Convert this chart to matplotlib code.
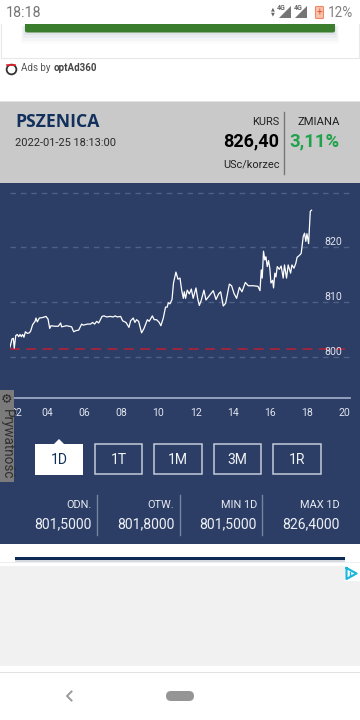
import matplotlib
matplotlib.use("Agg")
import matplotlib.pyplot as plt
from matplotlib.patches import Rectangle, FancyBboxPatch, Polygon

plt.rcParams['font.family'] = ['Roboto', 'DejaVu Sans']

# price readings, hour of day / USc per bushel
hours = [2.00, 2.11, 2.18, 2.23, 2.31, 2.39, 2.47, 2.54, 2.61, 2.68, 2.75, 2.83, 2.93, 3.04, 3.11, 3.22,
         3.35, 3.40, 3.47, 3.58, 3.76, 3.94, 4.05, 4.14, 4.21, 4.42, 4.60, 4.73, 4.78, 5.05, 5.32, 5.43,
         5.55, 5.70, 5.86, 5.95, 6.17, 6.34, 6.45, 6.56, 6.67, 6.78, 6.96, 7.06, 7.21, 7.39, 7.57, 7.66,
         7.78, 7.96, 8.07, 8.25, 8.41, 8.50, 8.64, 8.73, 8.82, 8.93, 9.09, 9.22, 9.40, 9.50, 9.67, 9.77,
         9.90, 10.04, 10.13, 10.26, 10.38, 10.47, 10.53, 10.62, 10.73, 10.81, 10.94, 11.05, 11.16, 11.25,
         11.34, 11.39, 11.46, 11.55, 11.66, 11.77, 11.87, 12.02, 12.11, 12.20, 12.30, 12.45, 12.56, 12.74,
         12.95, 13.10, 13.24, 13.35, 13.49, 13.62, 13.82, 13.94, 14.07, 14.21, 14.36, 14.50, 14.68, 14.84,
         15.11, 15.36, 15.47, 15.54, 15.59, 15.66, 15.73, 15.79, 15.86, 15.93, 16.00, 16.06, 16.15, 16.20,
         16.27, 16.33, 16.40, 16.51, 16.61, 16.72, 16.79, 16.90, 16.99, 17.12, 17.19, 17.30, 17.40, 17.47,
         17.58, 17.69, 17.80, 17.87, 17.94, 18.00, 18.09, 18.18, 18.25]
prices = [801.8, 803.3, 803.4, 801.6, 803.9, 804.1, 803.7, 804.1, 803.7, 804.1, 803.6, 804.6, 804.3, 804.4,
          804.7, 805.9, 806.5, 807.1, 806.4, 807.1, 807.2, 807.4, 806.9, 805.2, 805.7, 805.6, 805.6, 806.2,
          805.5, 805.7, 805.5, 804.6, 804.8, 804.9, 806.0, 805.8, 806.0, 806.0, 806.3, 806.0, 806.5, 806.2,
          807.4, 807.5, 807.3, 807.4, 807.3, 807.5, 807.3, 807.4, 806.6, 806.3, 805.4, 806.6, 807.1, 806.3,
          806.8, 806.5, 804.4, 805.2, 806.8, 806.5, 807.5, 806.8, 806.8, 806.3, 805.7, 807.1, 809.1, 809.1,
          809.9, 809.7, 810.5, 813.5, 815.5, 814.2, 814.4, 812.2, 810.7, 811.9, 810.7, 812.2, 811.5, 812.4,
          810.7, 812.6, 810.7, 809.4, 810.3, 812.2, 810.4, 811.2, 812.1, 810.5, 811.5, 811.9, 809.3, 809.8,
          813.3, 813.0, 811.6, 810.7, 812.7, 811.9, 813.6, 813.0, 813.0, 812.9, 812.1, 815.9, 814.4, 819.3,
          817.7, 818.3, 816.5, 817.6, 816.2, 813.5, 814.0, 812.6, 815.3, 814.6, 816.5, 816.0, 816.6, 814.4,
          816.8, 814.4, 816.8, 815.3, 816.8, 816.2, 817.1, 818.2, 818.5, 818.9, 822.0, 822.6, 821.1, 822.5,
          820.7, 826.6, 826.8]
prev_close = 801.5
grid_levels = [800, 810, 820, 830]
y_labels = ['800', '810', '820']
x_ticks = [2, 4, 6, 8, 10, 12, 14, 16, 18, 20]
x_labels = ['02', '04', '06', '08', '10', '12', '14', '16', '18', '20']
ranges = ['1D', '1T', '1M', '3M', '1R']
stat_names = ['ODN.', 'OTW.', 'MIN 1D', 'MAX 1D']
stat_values = ['801,5000', '801,8000', '801,5000', '826,4000']

NAVY = '#2c3e66'
W, H = 360, 720
fig = plt.figure(figsize=(3.6, 7.2), dpi=100, facecolor='white')


def layer():
    a = fig.add_axes([0, 0, 1, 1], facecolor='none')
    a.set_xlim(0, W)
    a.set_ylim(H, 0)
    a.axis('off')
    return a


# page, in pixels, under the chart
pg = layer()
pg.set_zorder(0)


def px(size):
    return size * 0.72


def box(x0, y0, x1, y1, on=pg, **kw):
    on.add_patch(Rectangle((x0, y0), x1 - x0, y1 - y0, linewidth=kw.pop('lw', 0), **kw))


# ad box and green button at the top
pg.plot([1, 1, 359, 359], [24, 58, 58, 24], color='#e8e8e8', lw=0.8)
for i, a in enumerate([0.03, 0.05, 0.07, 0.09]):
    box(25 - 4 + i, 26, 335 + 4 - i, 44 - i * 3, color='#8090a0', alpha=a)
pg.add_patch(FancyBboxPatch((25, 20), 310, 12.5, boxstyle='round,pad=0,rounding_size=2', color='#3a7d2c', lw=0))
box(0, 0, 360, 24, color='white')

# status bar
pg.text(6, 13, '18:18', fontsize=px(14.2), color='#757575', va='center')
pg.text(353, 13, '12%', fontsize=px(13.5), color='#808080', va='center', ha='right')
pg.add_patch(Polygon([(279, 18), (291, 18), (291, 6)], color='#757575', lw=0))
pg.add_patch(Polygon([(295, 18), (307, 18), (307, 6)], color='#757575', lw=0))
pg.text(281, 8.5, '4G', fontsize=px(7), color='#666666', va='center', ha='center', weight='bold')
pg.text(298, 8.5, '4G', fontsize=px(7), color='#666666', va='center', ha='center', weight='bold')
pg.text(273, 8.5, '▲', fontsize=px(5), color='#666666', va='center', ha='center')
pg.text(273, 14, '▼', fontsize=px(5), color='#666666', va='center', ha='center')
pg.add_patch(FancyBboxPatch((316, 7), 7, 11, boxstyle='round,pad=0.5,rounding_size=1', facecolor='#f6c4ae',
                            edgecolor='#ee8866', lw=0.8))
pg.text(319.5, 12.5, '+', fontsize=px(10), color='#e5562a', va='center', ha='center')

# ads by
pg.plot(10.5, 68.5, 'o', ms=7, mfc='none', mec='#333333', mew=1.3)
box(4, 67.5, 17, 69.5, color='white')
pg.plot([6.5, 14.5], [64.5, 64.5], color='#e8212c', lw=1.2)
pg.text(21, 68, 'Ads by ', fontsize=px(9.8), color='#555555', va='center')
pg.text(54, 68, 'optAd360', fontsize=px(9.8), color='#444444', va='center', weight='bold')

# header band
box(0, 101, 360, 102, color='#e2e2e2')
box(0, 102, 360, 183, color='#c9c9c9')
pg.text(15, 122, 'PSZENICA', fontsize=px(17.6), color='#12305c', va='center', weight='bold',
        family=['Open Sans', 'DejaVu Sans'])
pg.text(15, 143, '2022-01-25 18:13:00', fontsize=px(11), color='#2a2a2a', va='center')
pg.text(279, 122, 'KURS', fontsize=px(11), color='#222222', va='center', ha='right')
pg.text(279.5, 141, '826,40', fontsize=px(18), color='black', va='center', ha='right', weight='bold')
pg.text(279.5, 164, 'USc/korzec', fontsize=px(11), color='#222222', va='center', ha='right')
pg.plot([284, 284], [112, 174], color='#777777', lw=1)
pg.text(340, 122, 'ZMIANA', fontsize=px(11.2), color='#222222', va='center', ha='right')
pg.text(340, 141, '3,11%', fontsize=px(18.5), color='#1fa34a', va='center', ha='right', weight='bold')

# navy panel
box(0, 183, 360, 544, color=NAVY)

# chart
ax = fig.add_axes([10 / W, 1 - 398 / H, 340 / W, 213 / H], facecolor='none')
ax.set_zorder(1)
ax.set_xlim(2, 20.32)
ax.set_ylim(792.5, 831.4)
for lev in grid_levels:
    ax.axhline(lev, color='#4f6086', lw=1, dashes=(4, 3.5), zorder=1)
ax.plot([2, 20.2], [prev_close, prev_close], color='#a5243d', lw=1.3, dashes=(5.5, 3.5), zorder=2)
ax.plot(hours, prices, color='white', lw=0.9, zorder=3)
for s in ['top', 'left', 'right']:
    ax.spines[s].set_visible(False)
ax.spines['bottom'].set_color('#9aa8c4')
ax.spines['bottom'].set_linewidth(1.3)
ax.set_yticks([])
ax.set_xticks(x_ticks)
ax.set_xticklabels(x_labels, fontsize=px(10.5), color='#dfe3ec')
ax.tick_params(axis='x', length=0, pad=7)
ax.get_xticklabels()[0].set_ha('left')
for lev, lab in zip(grid_levels, y_labels):
    ax.annotate(lab, (333, lev), xycoords=('figure pixels', 'data'), xytext=(0, 3.6),
                textcoords='offset points', ha='center', va='center', fontsize=px(10.5), color='#dfe3ec')

# everything that sits over the chart
ov = layer()
ov.set_zorder(2)
box(0, 390, 14, 482, on=ov, color='#7b7b7b')
ov.text(7, 399.5, '⚙', fontsize=px(13), color='#2b2b2b', ha='center', va='center', family=['DejaVu Sans'])
ov.text(6.5, 444, 'Prywatność', fontsize=px(13.5), color='#303030', ha='center', va='center', rotation=-90)

# range buttons
x0 = [35, 94.5, 154, 213.5, 273]
for i, lab in enumerate(ranges):
    if i == 0:
        box(x0[i], 443.5, x0[i] + 48, 474.5, on=ov, color='white')
        ov.add_patch(Polygon([(x0[i] + 19, 444), (x0[i] + 24, 439), (x0[i] + 29, 444)], color='white', lw=0))
        c = '#12305c'
    else:
        box(x0[i], 444, x0[i] + 47.5, 474, on=ov, fill=False, edgecolor='#c3cbdb', lw=1.1)
        c = '#f0f2f6'
    ov.text(x0[i] + 24, 459.5, lab, fontsize=px(14), color=c, ha='center', va='center')

# stats row
right = [92, 174.5, 257, 339.5]
for i in range(4):
    ov.text(right[i], 505.5, stat_names[i], fontsize=px(11), color='#e6e9f0', ha='right', va='center')
    ov.text(right[i], 524, stat_values[i], fontsize=px(14), color='#eef0f5', ha='right', va='center')
    if i < 3:
        ov.plot([right[i] + 5, right[i] + 5], [495, 535], color='#76849f', lw=1)

# lower page
box(15, 556.5, 345, 559.5, color='#0d2a55')
box(15, 559.5, 345, 562, color='#d5d9df')
box(0, 562, 360, 563, color='#eeeeee')
box(0, 566, 360, 666, color='#f1f1f1')
box(345, 566, 360, 581, color='white')
pg.plot([346.5, 346.5, 356.5, 346.5], [568, 579, 573.5, 568], color='#19b5dc', lw=1.5)
pg.plot([349.5, 349.5], [572, 575], color='#19b5dc', lw=1)
box(0, 672, 360, 673, color='#e2e2e2')
pg.plot([71.5, 67, 71.5], [691.5, 696, 700.5], color='#9a9a9a', lw=1.4)
pg.add_patch(FancyBboxPatch((166, 691), 28, 10, boxstyle='round,pad=0,rounding_size=5', color='#959595', lw=0))

fig.savefig('out.png', dpi=100)
